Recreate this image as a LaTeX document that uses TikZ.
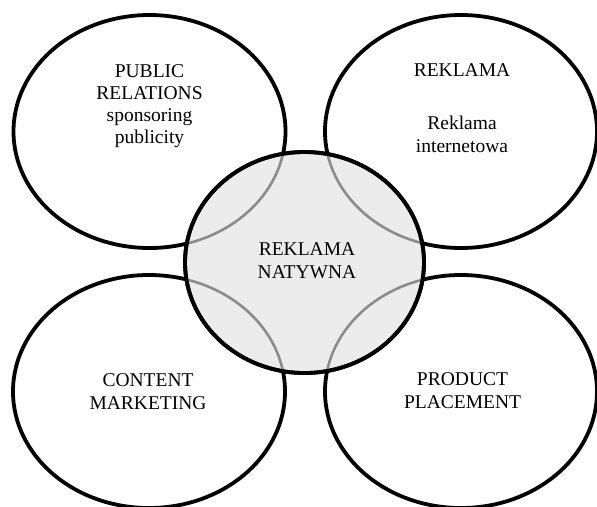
\documentclass[tikz,border=0pt]{standalone}
\usepackage{fontspec}
\setmainfont{Liberation Serif}
\usetikzlibrary{shapes.geometric}
\begin{document}
\begin{tikzpicture}[x=1pt,y=-1pt,
  outer/.style={ellipse,draw=black,line width=3.8pt,inner sep=0pt,
    minimum width=272pt,minimum height=233pt},
  core/.style={ellipse,draw=black,fill=gray!15,line width=3.8pt,inner sep=0pt,
    minimum width=239pt,minimum height=221pt},
  seam/.style={draw=black!45,line width=2.6pt},
  lbl/.style={anchor=base,align=center,inner sep=0pt,
    font=\fontsize{19.5}{23}\selectfont}]
\useasboundingbox (0,0) rectangle (597,506);
% four outer fields
\node[outer] (pr) at (149.5,131.5) {};
\node[outer] (rk) at (461,131.5) {};
\node[outer] (cm) at (149,391.5) {};
\node[outer] (pp) at (461,391.5) {};
% central field
\node[core] (nat) at (304.5,262.5) {};
% outlines of the outer fields seen through the central one
\begin{scope}
  \clip (nat.center) ellipse [x radius=118pt, y radius=109pt];
  \foreach \n in {pr,rk,cm,pp}
    \draw[seam] (\n.center) ellipse [x radius=136pt, y radius=116.5pt];
\end{scope}
\draw[line width=3.8pt] (nat.center) ellipse [x radius=119.5pt, y radius=110.5pt];
% labels (anchored at the baseline of their last line)
\node[lbl,font=\fontsize{19.5}{21.7}\selectfont] (tpr) at (149.5,143)
  {PUBLIC\\RELATIONS\\sponsoring\\publicity};
\node[lbl] (trk) at (462,152) {REKLAMA\\[30pt]Reklama\\internetowa};
\node[lbl] (tnat) at (307,278.3) {REKLAMA\\NATYWNA};
\node[lbl] (tcm) at (148,409.3) {CONTENT\\MARKETING};
\node[lbl] (tpp) at (462.5,408) {PRODUCT\\PLACEMENT};
\end{tikzpicture}
\end{document}
